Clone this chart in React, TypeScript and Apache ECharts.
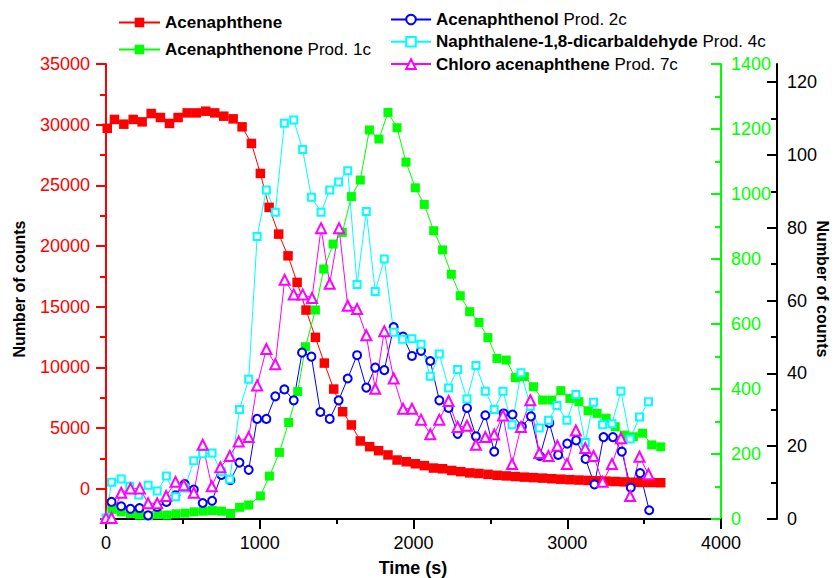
import React, { useEffect, useRef } from "react";
import * as echarts from "echarts";

const FONT = "'Liberation Sans', Arial, Helvetica, sans-serif";

// Axis tick values
const leftTicks = [0, 5000, 10000, 15000, 20000, 25000, 30000, 35000];
const leftMinorTicks = [-2500, 2500, 7500, 12500, 17500, 22500, 27500, 32500];
const greenTicks = [0, 200, 400, 600, 800, 1000, 1200, 1400];
const greenMinorTicks = [100, 300, 500, 700, 900, 1100, 1300];
const rightTicks = [0, 20, 40, 60, 80, 100, 120];
const rightMinorTicks = [10, 30, 50, 70, 90, 110];

// Series names
const names = [
  "Acenaphthene",
  "Acenaphthenone Prod. 1c",
  "Acenaphthenol Prod. 2c",
  "Naphthalene-1,8-dicarbaldehyde Prod. 4c",
  "Chloro acenaphthene Prod. 7c",
];

// [time (s), counts] — left (red) axis
const acenaphthene = [
  [8, 29700], [55, 30430], [116, 30040], [177, 30430], [235, 30230], [294, 30920], [354, 30590],
  [413, 30100], [469, 30590], [528, 30970], [588, 30970], [649, 31110], [707, 30970], [766, 30700],
  [827, 30480], [885, 29820], [946, 28450], [1004, 25980], [1061, 23180], [1123, 20980], [1184, 19190],
  [1243, 17000], [1301, 14720], [1362, 12470], [1420, 10350], [1481, 8210], [1539, 6340], [1596, 5250],
  [1654, 3930], [1715, 3460], [1773, 3130], [1834, 2780], [1893, 2360], [1953, 2220], [2012, 2050],
  [2071, 1900], [2130, 1700], [2189, 1640], [2248, 1500], [2307, 1400], [2366, 1300], [2425, 1250],
  [2485, 1180], [2544, 1100], [2603, 1050], [2662, 1000], [2721, 950], [2780, 910], [2840, 870],
  [2899, 820], [2958, 780], [3017, 740], [3076, 710], [3135, 680], [3194, 650], [3253, 620],
  [3312, 590], [3371, 560], [3430, 530], [3490, 510], [3549, 500], [3608, 490],
];

// green axis
const acenaphthenone = [
  [40, 30], [99, 22], [159, 17], [218, 12], [278, 10], [337, 14], [396, 12], [455, 16], [514, 18],
  [573, 22], [633, 24], [692, 26], [751, 24], [810, 17], [869, 36], [928, 43], [1004, 71], [1063, 132],
  [1128, 205], [1188, 297], [1247, 392], [1297, 530], [1362, 643], [1416, 769], [1477, 846], [1537, 882],
  [1596, 992], [1654, 1043], [1713, 1197], [1775, 1169], [1834, 1251], [1893, 1204], [1951, 1098],
  [2012, 1019], [2070, 968], [2131, 887], [2189, 828], [2246, 753], [2304, 687], [2365, 638], [2426, 605],
  [2484, 558], [2543, 494], [2603, 489], [2662, 435], [2721, 438], [2780, 407], [2840, 366], [2899, 366],
  [2958, 395], [3017, 371], [3076, 361], [3135, 333], [3194, 325], [3253, 310], [3312, 284], [3371, 258],
  [3430, 253], [3490, 264], [3549, 228], [3608, 222],
];

// right (black) axis
const acenaphthenol = [
  [36, 4.7], [99, 3.5], [159, 2.8], [218, 3.0], [274, 1.0], [333, 3.3], [393, 4.7], [452, 6.5], [512, 9.6],
  [571, 8.1], [629, 4.4], [690, 5.0], [751, 12.1], [809, 10.7], [868, 15.5], [928, 13.5], [983, 27.5],
  [1043, 27.5], [1101, 33.7], [1160, 35.6], [1221, 32.6], [1275, 45.7], [1336, 44.6], [1394, 29.4],
  [1455, 27.5], [1513, 32.6], [1572, 38.6], [1633, 45.0], [1693, 36.1], [1751, 41.6], [1810, 40.9],
  [1871, 52.7], [1932, 50.1], [1990, 44.8], [2049, 46.2], [2109, 43.4], [2168, 32.6], [2228, 30.5],
  [2287, 23.4], [2348, 30.5], [2406, 22.7], [2467, 28.5], [2525, 18.5], [2586, 29.0], [2644, 28.7],
  [2705, 25.4], [2764, 28.2], [2822, 17.3], [2883, 26.4], [2941, 17.6], [3000, 20.7], [3058, 21.6],
  [3119, 16.5], [3177, 9.5], [3236, 22.5], [3297, 22.5], [3355, 18.5], [3413, 8.6], [3474, 12.6],
  [3533, 2.4],
];

const naphthaleneDicarbaldehyde = [
  [0, 0.3], [36, 10.1], [99, 11.0], [155, 9.0], [213, 6.6], [274, 9.3], [333, 7.7], [393, 11.8], [452, 6.1],
  [512, 8.5], [571, 16.0], [629, 17.9], [690, 18.1], [751, 13.0], [805, 10.9], [868, 30.1], [928, 38.4],
  [983, 77.6], [1043, 90.4], [1101, 84.3], [1160, 108.7], [1221, 109.6], [1279, 101.5], [1336, 88.4],
  [1399, 84.3], [1455, 90.4], [1513, 92.6], [1572, 95.7], [1633, 64.4], [1693, 84.5], [1751, 62.5],
  [1810, 71.4], [1871, 51.3], [1929, 49.4], [1990, 49.5], [2049, 48.0], [2109, 39.2], [2168, 45.3],
  [2228, 36.0], [2287, 41.1], [2348, 33.0], [2406, 42.2], [2467, 35.1], [2525, 30.1], [2582, 35.1],
  [2641, 25.9], [2699, 40.2], [2760, 31.0], [2818, 25.0], [2878, 27.1], [2933, 31.2], [2998, 27.1],
  [3056, 34.2], [3117, 21.0], [3171, 32.1], [3230, 25.9], [3291, 26.2], [3349, 35.1], [3409, 22.0],
  [3470, 28.0], [3528, 32.2],
];

const chloroAcenaphthene = [
  [0, 0.3], [36, 0.3], [99, 7.2], [159, 8.4], [220, 8.4], [274, 4.3], [333, 4.3], [391, 6.3], [452, 10.2],
  [506, 9.3], [571, 7.2], [629, 20.4], [688, 9.0], [744, 14.2], [805, 17.3], [863, 21.3], [928, 22.5],
  [983, 36.7], [1043, 46.7], [1101, 42.5], [1162, 65.7], [1221, 61.7], [1279, 61.7], [1340, 60.7],
  [1399, 79.9], [1455, 64.6], [1516, 79.9], [1572, 58.6], [1633, 57.7], [1693, 50.5], [1751, 35.8],
  [1810, 51.6], [1871, 38.6], [1932, 30.3], [1990, 30.3], [2049, 27.3], [2109, 23.3], [2168, 27.3],
  [2228, 32.4], [2287, 25.3], [2348, 25.6], [2406, 20.4], [2467, 22.5], [2525, 23.2], [2582, 28.4],
  [2641, 15.1], [2699, 25.3], [2760, 32.6], [2818, 18.1], [2878, 17.3], [2936, 20.1], [2998, 15.1],
  [3056, 24.3], [3117, 19.5], [3171, 17.3], [3230, 10.2], [3291, 15.1], [3349, 22.2], [3409, 6.3],
  [3470, 17.1], [3528, 12.3],
];

const legendLabel: Record<string, string> = {
  "Acenaphthene": "{b|Acenaphthene}",
  "Acenaphthenone Prod. 1c": "{b|Acenaphthenone} Prod. 1c",
  "Acenaphthenol Prod. 2c": "{b|Acenaphthenol} Prod. 2c",
  "Naphthalene-1,8-dicarbaldehyde Prod. 4c": "{b|Naphthalene-1,8-dicarbaldehyde} Prod. 4c",
  "Chloro acenaphthene Prod. 7c": "{b|Chloro acenaphthene} Prod. 7c",
};

const RED = "#ff0000";
const GREEN = "#00ff00";
const BLUE = "#0000ff";
const CYAN = "#00ffff";
const MAGENTA = "#ff00ff";

const plain = (v: number) => String(v);

function majorAxis(color: string, min: number, max: number, ticks: number[], position: string, offset: number, inside: boolean, labelMargin: number) {
  return {
    type: "value",
    position,
    offset,
    min,
    max,
    splitLine: { show: false },
    axisLine: { show: true, onZero: false, lineStyle: { color, width: 2 } },
    axisTick: { show: true, inside, length: 10, customValues: ticks, lineStyle: { color, width: 2 } },
    axisLabel: {
      show: true,
      customValues: ticks,
      formatter: plain,
      color,
      fontSize: 18,
      fontFamily: FONT,
      margin: labelMargin,
    },
  };
}

function minorAxis(color: string, min: number, max: number, ticks: number[], position: string, offset: number, inside: boolean) {
  return {
    type: "value",
    position,
    offset,
    min,
    max,
    splitLine: { show: false },
    axisLine: { show: false },
    axisTick: { show: true, inside, length: 6, customValues: ticks, lineStyle: { color, width: 2 } },
    axisLabel: { show: false, customValues: ticks },
  };
}

export default function App() {
  const ref = useRef<HTMLDivElement>(null);
  useEffect(() => {
    if (!ref.current) return;
    const chart = echarts.init(ref.current, undefined, { renderer: "svg" });
    const legendCommon = {
      orient: "vertical",
      selectedMode: false,
      itemHeight: 12,
      textStyle: {
        fontSize: 17,
        color: "#000",
        fontFamily: FONT,
        rich: { b: { fontWeight: "bold", fontSize: 17, fontFamily: FONT, color: "#000" } },
      },
      formatter: (n: string) => legendLabel[n] || n,
    };
    const option: any = {
      animation: false,
      backgroundColor: "#fff",
      textStyle: { fontFamily: FONT },
      grid: { left: 106, right: 114, top: 64, bottom: 59, containLabel: false },
      legend: [
        { ...legendCommon, data: names.slice(0, 2), left: 113, top: 9, itemWidth: 41, itemGap: 10 },
        { ...legendCommon, data: names.slice(2), left: 385, top: 6, itemWidth: 40, itemGap: 5.3 },
      ],
      xAxis: {
        type: "value",
        min: 0,
        max: 4000,
        interval: 1000,
        splitLine: { show: false },
        axisLine: { show: true, onZero: false, lineStyle: { color: "#000", width: 2 } },
        axisTick: { show: true, length: 10, lineStyle: { color: "#000", width: 2 } },
        minorTick: { show: true, splitNumber: 2, length: 5, lineStyle: { color: "#000", width: 2 } },
        axisLabel: { color: "#000", fontSize: 18, fontFamily: FONT, margin: 15, formatter: plain },
      },
      yAxis: [
        majorAxis(RED, -2500, 35000, leftTicks, "left", 0, false, 16),
        minorAxis(RED, -2500, 35000, leftMinorTicks, "left", 0, false),
        majorAxis(GREEN, 0, 1400, greenTicks, "right", 0, true, 10),
        minorAxis(GREEN, 0, 1400, greenMinorTicks, "right", 0, true),
        majorAxis("#000", 0, 125, rightTicks, "right", 56, true, 10),
        minorAxis("#000", 0, 125, rightMinorTicks, "right", 56, true),
      ],
      series: [
        {
          name: names[0], type: "line", yAxisIndex: 0, data: acenaphthene,
          symbol: "rect", symbolSize: 9.5,
          lineStyle: { color: RED, width: 1 }, itemStyle: { color: RED, borderWidth: 0 },
        },
        {
          name: names[1], type: "line", yAxisIndex: 2, data: acenaphthenone,
          symbol: "rect", symbolSize: 9,
          lineStyle: { color: GREEN, width: 1 }, itemStyle: { color: GREEN, borderWidth: 0 },
        },
        {
          name: names[2], type: "line", yAxisIndex: 4, data: acenaphthenol,
          symbol: "emptyCircle", symbolSize: 8,
          lineStyle: { color: BLUE, width: 1 }, itemStyle: { color: BLUE, borderWidth: 1.8 },
        },
        {
          name: names[3], type: "line", yAxisIndex: 4, data: naphthaleneDicarbaldehyde,
          symbol: "emptyRect", symbolSize: 7,
          lineStyle: { color: CYAN, width: 1 }, itemStyle: { color: CYAN, borderWidth: 1.8 },
        },
        {
          name: names[4], type: "line", yAxisIndex: 4, data: chloroAcenaphthene,
          symbol: "emptyTriangle", symbolSize: 10,
          lineStyle: { color: MAGENTA, width: 1 }, itemStyle: { color: MAGENTA, borderWidth: 1.6 },
        },
      ],
      graphic: [
        {
          type: "text", x: 19, y: 289, rotation: Math.PI / 2,
          style: { text: "Number of counts", font: `bold 16px ${FONT}`, fill: "#000", align: "center", verticalAlign: "middle" },
        },
        {
          type: "text", x: 822, y: 289, rotation: -Math.PI / 2,
          style: { text: "Number of counts", font: `bold 16px ${FONT}`, fill: "#000", align: "center", verticalAlign: "middle" },
        },
        {
          type: "text", x: 413, y: 568,
          style: { text: "Time (s)", font: `bold 18px ${FONT}`, fill: "#000", align: "center", verticalAlign: "middle" },
        },
      ],
    };
    chart.setOption(option);
    return () => chart.dispose();
  }, []);
  return <div ref={ref} style={{ width: 835, height: 578, position: "absolute", left: 0, top: 0 }} />;
}
